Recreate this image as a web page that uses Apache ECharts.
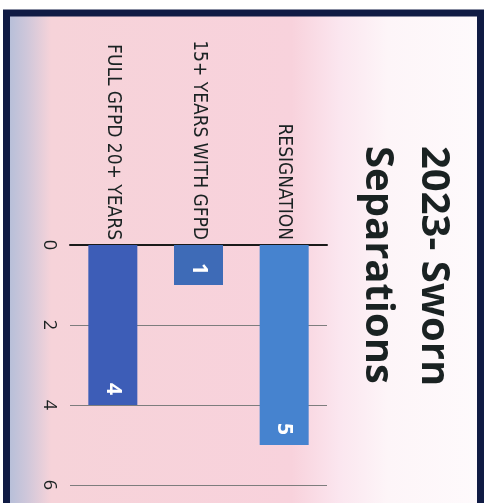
<!DOCTYPE html>
<html>
<head>
<meta charset="utf-8">
<script src="https://cdn.jsdelivr.net/npm/echarts@6/dist/echarts.min.js"></script>
<style>
  html, body { margin: 0; padding: 0; background: #ffffff; }
  #chart { width: 486px; height: 503px; }
</style>
</head>
<body>
<div id="chart"></div>
<script>
// Sworn separations in 2023, by reason (chart is laid out reading top-to-bottom)
const categories = ['FULL GFPD 20+ YEARS', '15+ YEARS WITH GFPD', 'RESIGNATION'];
const separations = [4, 1, 5];
const barColors = ['#3d5db7', '#3e6bb7', '#4683cf'];
const valueTicks = [0, 2, 4, 6];
const titleLines = ['2023- Sworn', 'Separations'];

const chart = echarts.init(document.getElementById('chart'));

const quarterTurn = -Math.PI / 2;
const inkColor = '#1a2222';

chart.setOption({
  backgroundColor: '#ffffff',
  animation: false,
  graphic: [
    {
      type: 'rect',
      z: -10,
      shape: { x: 6.5, y: 13, width: 474, height: 500 },
      style: {
        stroke: '#101b44',
        lineWidth: 7,
        fill: new echarts.graphic.LinearGradient(0, 0, 1, 0, [
          { offset: 0.0, color: '#aebcd8' },
          { offset: 0.05, color: '#cfc7da' },
          { offset: 0.1, color: '#f6d3d9' },
          { offset: 0.6, color: '#f8d2dc' },
          { offset: 0.7, color: '#fbe6ef' },
          { offset: 0.8, color: '#fdf5f8' },
          { offset: 1.0, color: '#fefafc' }
        ])
      }
    },
    {
      type: 'text',
      x: 433, y: 146,
      rotation: quarterTurn,
      style: {
        text: titleLines[0],
        font: 'bold 40px "Open Sans"',
        fill: inkColor,
        align: 'left',
        verticalAlign: 'middle'
      }
    },
    {
      type: 'text',
      x: 377, y: 146,
      rotation: quarterTurn,
      style: {
        text: titleLines[1],
        font: 'bold 40px "Open Sans"',
        fill: inkColor,
        align: 'left',
        verticalAlign: 'middle'
      }
    }
  ],
  grid: { left: 70, right: 159, top: 245, bottom: 18, containLabel: false },
  xAxis: {
    type: 'category',
    position: 'top',
    data: categories,
    axisLine: { show: true, lineStyle: { color: '#1a1a1a', width: 2 } },
    axisTick: { show: false },
    axisLabel: {
      interval: 0,
      rotate: -90,
      margin: 5,
      color: inkColor,
      fontFamily: '"DejaVu Sans Condensed"',
      fontSize: 19
    }
  },
  yAxis: {
    type: 'value',
    inverse: true,
    min: valueTicks[0],
    max: valueTicks[valueTicks.length - 1],
    interval: valueTicks[1] - valueTicks[0],
    axisLine: { show: false },
    axisTick: { show: false },
    splitLine: { show: true, lineStyle: { color: '#7d7d7d', width: 1 } },
    axisLabel: {
      rotate: -90,
      margin: 12,
      color: inkColor,
      fontFamily: '"Open Sans"',
      fontSize: 18
    }
  },
  series: [{
    type: 'bar',
    barWidth: 49,
    data: separations.map((v, i) => ({ value: v, itemStyle: { color: barColors[i] } })),
    label: {
      show: true,
      position: 'insideBottom',
      distance: 10,
      rotate: -90,
      align: 'right',
      verticalAlign: 'middle',
      color: '#ffffff',
      fontFamily: '"Open Sans"',
      fontWeight: 'bold',
      fontSize: 21
    }
  }]
});
</script>
</body>
</html>
